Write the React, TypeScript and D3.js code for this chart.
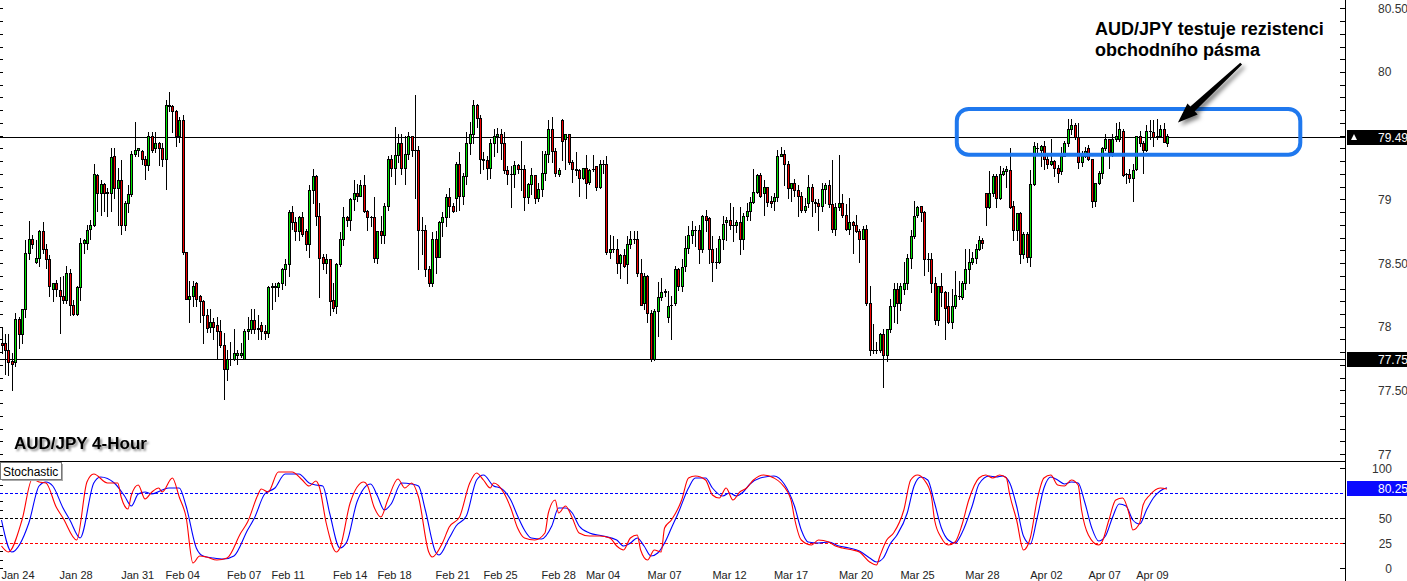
import { useEffect, useRef } from 'react';
import * as d3 from 'd3';

// AUD/JPY 4-hour bars: [open, high, low, close], oldest first
const candles: [number, number, number, number][] = [
  [77.87, 77.99, 77.79, 77.86], [77.87, 77.94, 77.63, 77.82], [77.82, 77.94, 77.62, 77.72], [77.73, 77.79, 77.50, 77.71],
  [77.72, 78.11, 77.69, 78.06], [78.06, 78.08, 77.83, 77.94], [77.94, 78.14, 77.87, 78.14], [78.14, 78.68, 78.08, 78.58],
  [78.58, 78.83, 78.53, 78.69], [78.69, 78.72, 78.62, 78.65], [78.51, 78.68, 78.50, 78.54], [78.54, 78.76, 78.48, 78.75],
  [78.75, 78.82, 78.58, 78.61], [78.61, 78.65, 78.46, 78.53], [78.53, 78.56, 78.24, 78.32], [78.30, 78.34, 78.20, 78.34],
  [78.34, 78.37, 78.24, 78.30], [78.29, 78.39, 77.95, 78.24], [78.24, 78.40, 78.19, 78.21], [78.21, 78.48, 78.19, 78.42],
  [78.42, 78.45, 78.09, 78.17], [78.17, 78.21, 78.09, 78.10], [78.10, 78.32, 78.09, 78.31], [78.31, 78.70, 78.21, 78.66],
  [78.66, 78.69, 78.58, 78.68], [78.66, 78.80, 78.61, 78.76], [78.77, 78.84, 78.69, 78.80], [78.80, 79.28, 78.79, 79.20],
  [79.19, 79.20, 78.91, 79.05], [79.05, 79.15, 78.88, 79.12], [79.12, 79.13, 78.91, 79.05], [79.05, 79.09, 78.87, 79.06],
  [79.05, 79.40, 78.91, 79.33], [79.34, 79.40, 79.01, 79.09], [79.09, 79.25, 78.80, 79.15], [79.15, 79.31, 78.73, 78.80],
  [78.80, 78.99, 78.76, 78.97], [78.97, 79.11, 78.90, 79.04], [79.04, 79.38, 79.03, 79.36], [79.36, 79.61, 79.34, 79.39],
  [79.39, 79.40, 79.34, 79.40], [79.38, 79.39, 79.28, 79.32], [79.32, 79.34, 79.16, 79.27], [79.27, 79.53, 79.23, 79.50],
  [79.50, 79.53, 79.37, 79.39], [79.40, 79.53, 79.37, 79.44], [79.44, 79.45, 79.27, 79.40], [79.40, 79.44, 79.26, 79.32],
  [79.32, 79.78, 79.08, 79.74], [79.74, 79.84, 79.69, 79.73], [79.73, 79.74, 79.53, 79.69], [79.69, 79.70, 79.42, 79.50],
  [79.50, 79.65, 79.45, 79.62], [79.62, 79.66, 78.57, 78.59], [78.59, 78.59, 78.22, 78.22], [78.22, 78.36, 78.04, 78.24],
  [78.24, 78.36, 78.16, 78.32], [78.34, 78.35, 78.16, 78.22], [78.24, 78.25, 78.04, 78.20], [78.20, 78.21, 77.87, 78.09],
  [78.09, 78.14, 77.96, 77.99], [78.00, 78.14, 77.96, 78.04], [78.04, 78.07, 77.90, 78.00], [78.01, 78.08, 77.75, 77.97],
  [77.97, 78.05, 77.84, 77.86], [77.86, 77.95, 77.43, 77.67], [77.67, 77.82, 77.58, 77.75], [77.75, 77.88, 77.70, 77.75],
  [77.75, 77.98, 77.74, 77.79], [77.78, 77.82, 77.71, 77.79], [77.78, 77.87, 77.76, 77.79], [77.75, 77.98, 77.75, 77.97],
  [77.97, 78.08, 77.90, 77.98], [77.98, 78.14, 77.95, 78.05], [78.05, 78.14, 77.95, 77.98], [77.98, 78.09, 77.90, 77.99],
  [78.01, 78.04, 77.90, 77.97], [77.97, 78.01, 77.90, 77.95], [77.95, 78.32, 77.92, 78.31], [78.31, 78.34, 78.14, 78.32],
  [78.31, 78.34, 78.20, 78.32], [78.31, 78.35, 78.24, 78.34], [78.34, 78.46, 78.30, 78.45], [78.45, 78.53, 78.33, 78.49],
  [78.49, 78.92, 78.40, 78.90], [78.90, 78.95, 78.77, 78.82], [78.82, 78.86, 78.68, 78.75], [78.75, 78.87, 78.68, 78.86],
  [78.86, 78.90, 78.71, 78.73], [78.75, 78.77, 78.60, 78.65], [78.65, 79.11, 78.55, 79.07], [79.07, 79.24, 78.97, 79.18],
  [79.18, 79.19, 78.80, 78.87], [78.87, 78.97, 78.23, 78.54], [78.55, 78.57, 78.45, 78.50], [78.50, 78.57, 78.42, 78.53],
  [78.53, 78.53, 78.09, 78.20], [78.21, 78.34, 78.12, 78.15], [78.16, 78.50, 78.11, 78.49], [78.49, 78.74, 78.48, 78.69],
  [78.69, 78.94, 78.64, 78.86], [78.86, 78.87, 78.79, 78.84], [78.84, 79.01, 78.76, 79.00], [79.00, 79.15, 78.92, 79.05],
  [79.05, 79.12, 78.99, 79.03], [79.03, 79.15, 79.03, 79.11], [79.11, 79.19, 78.90, 78.91], [78.91, 78.92, 78.76, 78.86],
  [78.86, 78.87, 78.79, 78.86], [78.86, 79.02, 78.51, 78.54], [78.54, 78.75, 78.50, 78.75], [78.75, 78.87, 78.66, 78.72],
  [78.72, 78.97, 78.66, 78.95], [78.95, 79.34, 78.92, 79.32], [79.32, 79.35, 79.18, 79.25], [79.25, 79.57, 79.12, 79.35],
  [79.35, 79.51, 79.29, 79.44], [79.44, 79.51, 79.20, 79.25], [79.25, 79.50, 79.12, 79.36], [79.36, 79.53, 79.32, 79.50],
  [79.50, 79.50, 79.34, 79.39], [79.39, 79.82, 79.01, 79.39], [79.39, 79.42, 78.45, 78.76], [78.76, 78.86, 78.57, 78.76],
  [78.76, 78.80, 78.40, 78.45], [78.45, 78.48, 78.32, 78.34], [78.34, 78.74, 78.32, 78.69], [78.69, 78.75, 78.42, 78.55],
  [78.55, 78.83, 78.55, 78.82], [78.82, 78.90, 78.71, 78.86], [78.86, 79.04, 78.79, 79.02], [79.02, 79.09, 78.86, 78.95],
  [78.95, 78.97, 78.90, 78.91], [79.01, 79.29, 78.91, 79.28], [79.28, 79.37, 78.92, 79.03], [79.03, 79.21, 78.96, 79.18],
  [79.18, 79.53, 79.12, 79.44], [79.44, 79.61, 79.36, 79.51], [79.51, 79.78, 79.44, 79.74], [79.74, 79.75, 79.57, 79.64],
  [79.64, 79.66, 79.21, 79.32], [79.32, 79.37, 79.24, 79.31], [79.31, 79.34, 79.16, 79.25], [79.25, 79.47, 79.17, 79.44],
  [79.44, 79.55, 79.34, 79.50], [79.50, 79.56, 79.37, 79.51], [79.51, 79.55, 79.32, 79.44], [79.44, 79.53, 79.21, 79.23],
  [79.23, 79.26, 79.12, 79.20], [79.20, 79.26, 78.94, 79.20], [79.20, 79.30, 79.10, 79.27], [79.27, 79.28, 79.21, 79.24],
  [79.24, 79.46, 79.07, 79.24], [79.24, 79.27, 78.92, 79.02], [79.02, 79.13, 78.97, 79.12], [79.12, 79.25, 79.04, 79.19],
  [79.19, 79.19, 78.97, 79.01], [79.01, 79.13, 78.99, 79.08], [79.08, 79.38, 79.03, 79.21], [79.21, 79.38, 79.15, 79.36],
  [79.36, 79.62, 79.29, 79.55], [79.55, 79.65, 79.29, 79.38], [79.38, 79.40, 79.18, 79.21], [79.20, 79.25, 79.18, 79.23],
  [79.62, 79.63, 79.31, 79.46], [79.47, 79.51, 79.24, 79.51], [79.51, 79.51, 79.28, 79.29], [79.29, 79.31, 79.14, 79.24],
  [79.24, 79.37, 79.19, 79.23], [79.23, 79.24, 79.03, 79.17], [79.17, 79.25, 79.16, 79.25], [79.25, 79.35, 79.01, 79.13],
  [79.14, 79.24, 79.12, 79.23], [79.24, 79.35, 79.22, 79.24], [79.26, 79.26, 79.07, 79.10], [79.10, 79.31, 79.09, 79.28],
  [79.28, 79.31, 79.21, 79.28], [79.28, 79.34, 78.57, 78.59], [78.59, 78.72, 78.54, 78.61], [78.61, 78.71, 78.59, 78.61],
  [78.61, 78.69, 78.42, 78.50], [78.50, 78.57, 78.38, 78.56], [78.56, 78.61, 78.47, 78.48], [78.49, 78.71, 78.34, 78.65],
  [78.65, 78.75, 78.62, 78.69], [78.69, 78.75, 78.66, 78.69], [78.69, 78.75, 78.40, 78.42], [78.42, 78.53, 78.17, 78.17],
  [78.19, 78.42, 78.14, 78.40], [78.40, 78.41, 78.04, 78.11], [78.11, 78.13, 77.73, 77.75], [77.75, 78.14, 77.74, 78.12],
  [78.12, 78.35, 77.93, 78.23], [78.23, 78.38, 78.21, 78.27], [78.27, 78.30, 78.24, 78.28], [78.08, 78.28, 78.04, 78.16],
  [78.17, 78.24, 77.90, 78.17], [78.19, 78.48, 78.17, 78.45], [78.45, 78.46, 78.29, 78.32], [78.32, 78.53, 78.28, 78.47],
  [78.48, 78.71, 78.44, 78.62], [78.62, 78.79, 78.58, 78.72], [78.72, 78.83, 78.66, 78.76], [78.76, 78.79, 78.63, 78.76],
  [78.76, 78.80, 78.50, 78.61], [78.61, 78.88, 78.59, 78.87], [78.87, 78.92, 78.75, 78.84], [78.85, 78.86, 78.50, 78.61],
  [78.61, 78.71, 78.36, 78.51], [78.51, 78.62, 78.46, 78.51], [78.51, 78.71, 78.50, 78.69], [78.69, 78.87, 78.61, 78.81],
  [78.82, 78.86, 78.68, 78.84], [78.84, 78.97, 78.77, 78.80], [78.80, 78.94, 78.67, 78.80], [78.80, 78.84, 78.74, 78.82],
  [78.82, 78.94, 78.57, 78.69], [78.69, 78.89, 78.61, 78.87], [78.87, 78.97, 78.84, 78.91], [78.91, 79.02, 78.84, 78.98],
  [78.98, 79.24, 78.97, 79.06], [79.06, 79.20, 79.05, 79.19], [79.19, 79.21, 79.02, 79.03], [79.05, 79.15, 78.88, 79.10],
  [79.10, 79.10, 78.95, 78.98], [78.99, 79.03, 78.94, 78.97], [78.99, 79.05, 78.92, 79.02], [79.02, 79.39, 78.99, 79.34],
  [79.34, 79.41, 79.34, 79.36], [79.36, 79.39, 79.11, 79.28], [79.28, 79.30, 79.01, 79.09], [79.09, 79.13, 78.99, 79.13],
  [79.13, 79.16, 79.03, 79.07], [79.07, 79.11, 78.87, 79.03], [79.03, 79.06, 78.90, 78.92], [78.92, 79.01, 78.90, 78.95],
  [78.97, 79.19, 78.94, 79.10], [79.10, 79.12, 78.87, 78.99], [78.98, 79.00, 78.90, 78.97], [78.97, 79.00, 78.76, 78.95],
  [78.95, 79.13, 78.91, 79.08], [79.08, 79.13, 78.97, 79.11], [79.11, 79.15, 78.94, 78.96], [78.96, 79.31, 78.74, 78.77],
  [78.77, 78.97, 78.72, 78.94], [78.94, 79.35, 78.92, 78.97], [78.97, 79.04, 78.86, 78.88], [78.88, 78.96, 78.76, 78.77],
  [78.77, 79.01, 78.73, 78.82], [78.82, 78.83, 78.58, 78.80], [78.80, 78.88, 78.74, 78.75], [78.75, 78.77, 78.51, 78.69],
  [78.69, 78.79, 78.69, 78.77], [78.77, 78.80, 78.17, 78.19], [78.19, 78.32, 77.78, 77.82], [77.82, 78.02, 77.79, 77.82],
  [77.82, 77.88, 77.79, 77.82], [77.82, 77.95, 77.80, 77.94], [77.94, 77.98, 77.53, 77.78], [77.78, 77.98, 77.73, 77.98],
  [77.98, 78.22, 77.96, 78.16], [78.16, 78.34, 78.04, 78.30], [78.30, 78.34, 78.03, 78.19], [78.19, 78.34, 78.13, 78.32],
  [78.30, 78.51, 78.26, 78.34], [78.34, 78.57, 78.30, 78.54], [78.54, 78.76, 78.46, 78.71], [78.71, 78.99, 78.70, 78.87],
  [78.88, 78.95, 78.86, 78.94], [78.95, 78.95, 78.83, 78.90], [78.90, 78.91, 78.41, 78.53], [78.53, 78.58, 78.44, 78.53],
  [78.53, 78.58, 78.27, 78.34], [78.34, 78.39, 78.02, 78.05], [78.05, 78.32, 78.01, 78.32], [78.32, 78.42, 78.16, 78.27],
  [78.27, 78.28, 77.90, 78.15], [78.16, 78.27, 78.03, 78.04], [78.04, 78.30, 77.99, 78.16], [78.16, 78.44, 78.15, 78.25],
  [78.24, 78.36, 78.22, 78.24], [78.23, 78.36, 78.22, 78.34], [78.34, 78.61, 78.30, 78.45], [78.45, 78.61, 78.34, 78.51],
  [78.51, 78.59, 78.49, 78.54], [78.54, 78.65, 78.50, 78.61], [78.61, 78.71, 78.60, 78.68], [78.68, 78.70, 78.62, 78.66],
  [79.05, 79.05, 78.80, 78.94], [78.94, 79.22, 78.93, 79.05], [79.05, 79.20, 79.03, 79.18], [79.18, 79.20, 78.94, 79.01],
  [79.01, 79.26, 79.00, 79.20], [79.20, 79.25, 79.19, 79.22], [79.22, 79.26, 79.10, 79.24], [79.23, 79.40, 78.93, 78.94],
  [78.95, 78.99, 78.68, 78.76], [78.76, 78.89, 78.68, 78.89], [78.89, 78.90, 78.50, 78.57], [78.57, 78.74, 78.54, 78.73],
  [78.73, 78.74, 78.51, 78.55], [78.55, 79.23, 78.48, 79.12], [79.12, 79.45, 79.11, 79.42], [79.40, 79.44, 79.37, 79.40],
  [79.39, 79.43, 79.26, 79.42], [79.42, 79.46, 79.24, 79.32], [79.32, 79.34, 79.25, 79.28], [79.28, 79.47, 79.27, 79.30],
  [79.30, 79.31, 79.18, 79.25], [79.25, 79.27, 79.14, 79.21], [79.22, 79.41, 79.20, 79.34], [79.34, 79.46, 79.34, 79.44],
  [79.44, 79.63, 79.42, 79.55], [79.55, 79.63, 79.51, 79.58], [79.58, 79.60, 79.47, 79.49], [79.49, 79.60, 79.25, 79.29],
  [79.29, 79.38, 79.26, 79.34], [79.34, 79.41, 79.33, 79.38], [79.40, 79.43, 79.31, 79.32], [79.32, 79.32, 78.94, 78.99],
  [78.99, 79.13, 78.95, 79.13], [79.13, 79.22, 79.12, 79.21], [79.21, 79.41, 79.17, 79.40], [79.40, 79.51, 79.39, 79.47],
  [79.47, 79.47, 79.25, 79.37], [79.37, 79.51, 79.34, 79.47], [79.47, 79.60, 79.46, 79.50], [79.47, 79.61, 79.46, 79.55],
  [79.54, 79.55, 79.18, 79.19], [79.20, 79.21, 79.13, 79.20], [79.20, 79.24, 79.14, 79.17], [79.17, 79.28, 78.99, 79.23],
  [79.24, 79.50, 79.23, 79.50], [79.50, 79.54, 79.42, 79.44], [79.44, 79.46, 79.21, 79.39], [79.39, 79.58, 79.38, 79.54],
  [79.54, 79.62, 79.47, 79.54], [79.53, 79.62, 79.42, 79.49], [79.50, 79.63, 79.47, 79.50], [79.50, 79.58, 79.49, 79.55],
  [79.55, 79.60, 79.45, 79.45], [79.44, 79.51, 79.42, 79.50],
];

// date labels: [text, bar index]
const dateTicks: [string, number][] = [
  ['Jan 24', 0], ['Jan 28', 17], ['Jan 31', 35], ['Feb 04', 48], ['Feb 07', 66], ['Feb 11', 79],
  ['Feb 14', 97], ['Feb 18', 110], ['Feb 21', 127], ['Feb 25', 141], ['Feb 28', 158], ['Mar 04', 171],
  ['Mar 07', 189], ['Mar 12', 208], ['Mar 17', 226], ['Mar 20', 245], ['Mar 25', 263], ['Mar 28', 282],
  ['Apr 02', 301], ['Apr 07', 318], ['Apr 09', 332],
];

const priceTicks = [80.5, 80, 79, 78.5, 78, 77.5, 77];
const priceLines = [79.49, 77.75];
const stochTicks = [100, 50, 25, 0];
const stochLevels: [number, string][] = [[75, '#0000ff'], [50, '#000000'], [25, '#ff0000']];
const stochLast = 80.25;

// stochastic main (red) and signal (blue): [bar, value]
const stochMain: [number, number][] = [
  [0, 22], [2, 16], [6, 48], [9, 89], [11, 86], [13, 85], [16, 61], [18, 50], [22, 28], [25, 86], [27, 94],
  [31, 85], [34, 85], [35, 71], [37, 59], [38, 73], [40, 83], [42, 69], [44, 76], [46, 80], [47, 76], [50, 90],
  [52, 71], [54, 51], [56, 5], [58, 12], [60, 11], [63, 8], [66, 10], [70, 35], [72, 46], [75, 73], [76, 79],
  [78, 76], [81, 96], [85, 96], [88, 88], [90, 82], [92, 87], [93, 81], [95, 45], [98, 16], [99, 20], [102, 65],
  [106, 86], [107, 83], [109, 61], [111, 51], [113, 68], [116, 89], [118, 80], [120, 85], [122, 71], [125, 16],
  [126, 11], [129, 25], [131, 41], [134, 51], [137, 85], [139, 95], [141, 88], [143, 80], [144, 85], [147, 75],
  [149, 60], [151, 40], [153, 30], [156, 28], [159, 35], [160, 55], [162, 68], [163, 55], [165, 62], [167, 50],
  [169, 35], [172, 32], [175, 32], [178, 30], [180, 22], [182, 18], [184, 30], [186, 33], [187, 18], [189, 8],
  [191, 18], [193, 16], [194, 40], [196, 48], [199, 68], [201, 90], [203, 92], [206, 88], [208, 73], [210, 70],
  [212, 80], [214, 68], [216, 76], [218, 80], [220, 88], [223, 93], [226, 90], [228, 85], [231, 68], [232, 50],
  [234, 28], [237, 23], [239, 28], [242, 26], [244, 22], [246, 20], [249, 18], [251, 16], [254, 6], [256, 3],
  [257, 12], [259, 28], [261, 35], [264, 58], [266, 88], [268, 93], [270, 88], [272, 73], [273, 48], [275, 30],
  [277, 23], [279, 26], [281, 43], [283, 68], [286, 90], [288, 93], [290, 90], [292, 93], [294, 90], [295, 73],
  [297, 48], [299, 18], [301, 30], [303, 68], [305, 90], [307, 93], [309, 83], [311, 82], [313, 88], [315, 83],
  [316, 58], [318, 33], [321, 23], [322, 26], [324, 48], [326, 68], [328, 70], [330, 53], [331, 38], [333, 45],
  [334, 63], [336, 73], [339, 80], [341, 79],
];

const stochSignal: [number, number][] = [
  [0, 48], [3, 16], [8, 45], [11, 82], [13, 86], [15, 82], [18, 60], [20, 48], [23, 30], [27, 85], [29, 91],
  [33, 85], [36, 72], [38, 62], [40, 74], [42, 76], [44, 74], [47, 78], [49, 80], [52, 80], [54, 62], [57, 20],
  [59, 12], [62, 10], [65, 9], [68, 12], [72, 38], [74, 50], [77, 74], [80, 80], [83, 94], [87, 94], [90, 85],
  [92, 83], [94, 82], [96, 55], [99, 20], [101, 26], [104, 66], [108, 84], [110, 72], [112, 58], [114, 64],
  [117, 85], [120, 84], [122, 82], [124, 58], [127, 16], [128, 13], [131, 30], [133, 42], [136, 52], [139, 88],
  [141, 93], [144, 82], [146, 80], [149, 68], [151, 52], [153, 38], [155, 30], [158, 29], [161, 42], [163, 60],
  [165, 60], [167, 55], [169, 42], [172, 35], [176, 32], [180, 28], [182, 22], [184, 25], [186, 30], [188, 22],
  [190, 12], [192, 15], [194, 25], [196, 40], [198, 55], [201, 80], [203, 90], [206, 90], [208, 80], [211, 72],
  [213, 75], [215, 72], [217, 76], [219, 84], [222, 90], [226, 92], [229, 84], [232, 62], [234, 38], [236, 26],
  [239, 25], [242, 26], [245, 22], [248, 20], [251, 17], [254, 10], [256, 6], [258, 10], [260, 24], [262, 33],
  [265, 55], [267, 82], [269, 91], [271, 88], [273, 65], [275, 40], [277, 28], [279, 25], [281, 35], [284, 62],
  [286, 84], [289, 92], [291, 91], [293, 92], [295, 85], [297, 62], [299, 32], [301, 24], [303, 50], [305, 80],
  [307, 91], [309, 88], [311, 84], [313, 86], [315, 85], [317, 65], [319, 40], [321, 27], [323, 32], [325, 50],
  [327, 64], [329, 62], [331, 48], [333, 44], [335, 58], [337, 70], [339, 77], [341, 80.25],
];

const W = 1407;
const H = 581;
const axisX = 1345;
const font = '"Liberation Sans", Arial, sans-serif';

const App = () => {
  const svgRef = useRef<SVGSVGElement>(null);

  useEffect(() => {
    if (!svgRef.current) return;
    const svg = d3.select(svgRef.current);
    svg.selectAll('*').remove();

    const x = d3.scaleLinear().domain([0, candles.length - 1]).range([1.5, 1167]);
    const y = d3.scaleLinear().domain([77, 80.5]).range([454.1, 8.3]);
    const sy = d3.scaleLinear().domain([0, 100]).range([568, 468]);

    const defs = svg.append('defs');
    defs.append('filter').attr('id', 'txtShadow')
      .attr('x', '-10%').attr('y', '-30%').attr('width', '130%').attr('height', '170%')
      .append('feDropShadow')
      .attr('dx', 2).attr('dy', 2).attr('stdDeviation', 1.3)
      .attr('flood-color', '#000').attr('flood-opacity', 0.45);
    defs.append('filter').attr('id', 'arrowShadow')
      .attr('x', '-30%').attr('y', '-30%').attr('width', '170%').attr('height', '170%')
      .append('feDropShadow')
      .attr('dx', 3).attr('dy', 3).attr('stdDeviation', 2.2)
      .attr('flood-color', '#000').attr('flood-opacity', 0.5);
    defs.append('clipPath').attr('id', 'stochClip')
      .append('rect').attr('x', 0).attr('y', 462).attr('width', axisX).attr('height', 119);

    svg.append('rect').attr('width', W).attr('height', H).attr('fill', '#ffffff');

    // left edge ticks
    const leftTicks = svg.append('g').attr('shape-rendering', 'crispEdges');
    d3.range(77, 80.55, 0.1).forEach(p => {
      const yy = Math.round(y(p)) + 0.5;
      leftTicks.append('line').attr('x1', 0).attr('x2', 3).attr('y1', yy).attr('y2', yy).attr('stroke', '#000');
    });
    d3.range(0, 100, 100 / 12).forEach(v => {
      const yy = Math.round(sy(v)) + 0.5;
      leftTicks.append('line').attr('x1', 0).attr('x2', 3).attr('y1', yy).attr('y2', yy).attr('stroke', '#000');
    });

    // horizontal support / resistance lines
    const lines = svg.append('g').attr('shape-rendering', 'crispEdges');
    priceLines.forEach(p => {
      const yy = Math.round(y(p)) + 0.5;
      lines.append('line').attr('x1', 0).attr('x2', axisX).attr('y1', yy).attr('y2', yy)
        .attr('stroke', '#000').attr('stroke-width', 1);
    });

    // candles
    const cg = svg.append('g').attr('shape-rendering', 'crispEdges');
    candles.forEach((c, i) => {
      const [o, h0, l0, cl] = c;
      const h = Math.max(h0, o, cl);
      const l = Math.min(l0, o, cl);
      const cx = Math.round(x(i));
      cg.append('line')
        .attr('x1', cx + 0.5).attr('x2', cx + 0.5)
        .attr('y1', Math.round(y(h))).attr('y2', Math.round(y(l)) + 1)
        .attr('stroke', '#000');
      const top = Math.round(y(Math.max(o, cl)));
      const bot = Math.round(y(Math.min(o, cl)));
      const bh = Math.max(1, bot - top + 1);
      cg.append('rect').attr('x', cx - 1).attr('y', top).attr('width', 3).attr('height', bh).attr('fill', '#000');
      if (bh > 2) {
        cg.append('rect').attr('x', cx).attr('y', top + 1).attr('width', 1).attr('height', bh - 2)
          .attr('fill', cl >= o ? '#00e400' : '#f00000');
      }
    });

    // annotation box
    svg.append('rect')
      .attr('x', x(279.5)).attr('y', y(79.71))
      .attr('width', x(380) - x(279.5)).attr('height', y(79.35) - y(79.71))
      .attr('rx', 12).attr('ry', 12)
      .attr('fill', 'none').attr('stroke', '#1f78ee').attr('stroke-width', 4);

    // annotation arrow
    const tail: [number, number] = [x(362.7), y(80.066)];
    const tip: [number, number] = [x(344.2), y(79.603)];
    const dx = tip[0] - tail[0];
    const dy = tip[1] - tail[1];
    const len = Math.hypot(dx, dy);
    const ux = dx / len, uy = dy / len;
    const nx = uy, ny = -ux;
    const base: [number, number] = [tip[0] - ux * 20, tip[1] - uy * 20];
    const pt = (p: [number, number], k: number) => `${p[0] + nx * k},${p[1] + ny * k}`;
    svg.append('polygon')
      .attr('points', [
        pt(tail, 1.3), pt(base, 3.2), pt(base, 7.5), `${tip[0]},${tip[1]}`, pt(base, -7.5), pt(base, -3.2), pt(tail, -1.3),
      ].join(' '))
      .attr('fill', '#000')
      .attr('filter', 'url(#arrowShadow)');

    // annotation text
    const note = svg.append('g').attr('font-family', font).attr('font-weight', 'bold')
      .attr('font-size', 18).attr('fill', '#000');
    note.append('text').attr('x', 1095).attr('y', 35).text('AUD/JPY testuje rezistenci');
    note.append('text').attr('x', 1095).attr('y', 56).text('obchodního pásma');

    // title
    svg.append('text')
      .attr('x', 14).attr('y', 449)
      .attr('font-family', font).attr('font-weight', 'bold').attr('font-size', 17)
      .attr('fill', '#000').attr('filter', 'url(#txtShadow)')
      .text('AUD/JPY 4-Hour');

    // panel separator and right axis
    const frame = svg.append('g').attr('shape-rendering', 'crispEdges');
    frame.append('line').attr('x1', 0).attr('x2', axisX).attr('y1', 461.5).attr('y2', 461.5).attr('stroke', '#000');
    frame.append('line').attr('x1', axisX + 0.5).attr('x2', axisX + 0.5).attr('y1', 0).attr('y2', H).attr('stroke', '#000');

    // price axis ticks and labels
    d3.range(77, 80.55, 0.1).forEach(p => {
      const yy = Math.round(y(p)) + 0.5;
      frame.append('line').attr('x1', axisX - 5).attr('x2', axisX).attr('y1', yy).attr('y2', yy).attr('stroke', '#000');
    });
    const axisText = svg.append('g').attr('font-family', font).attr('font-size', 12).attr('fill', '#333');
    priceTicks.forEach(p => {
      axisText.append('text').attr('x', 1378).attr('y', y(p) + 4.5)
        .text(Number.isInteger(p) ? String(p) : p.toFixed(2));
    });

    // price line labels
    priceLines.forEach((p, i) => {
      const yy = Math.round(y(p));
      svg.append('rect').attr('x', axisX + 2).attr('y', yy - 7).attr('width', W - axisX - 2).attr('height', 15)
        .attr('fill', '#000');
      if (i === 0) {
        svg.append('path')
          .attr('d', `M${axisX + 6},${yy + 3} L${axisX + 9},${yy - 3} L${axisX + 12},${yy + 3} Z`)
          .attr('fill', '#fff');
      }
      svg.append('text').attr('x', 1378).attr('y', yy + 4.5)
        .attr('font-family', font).attr('font-size', 12).attr('fill', '#fff')
        .text(p.toFixed(2));
    });

    // stochastic panel
    const sg = svg.append('g').attr('clip-path', 'url(#stochClip)');
    stochLevels.forEach(([v, col]) => {
      const yy = Math.round(sy(v)) + 0.5;
      sg.append('line').attr('x1', 0).attr('x2', axisX).attr('y1', yy).attr('y2', yy)
        .attr('stroke', col).attr('stroke-dasharray', '3,2').attr('shape-rendering', 'crispEdges');
    });
    const line = d3.line<[number, number]>()
      .x(d => x(d[0]))
      .y(d => sy(d[1]))
      .curve(d3.curveMonotoneX);
    sg.append('path').attr('d', line(stochSignal) || '').attr('fill', 'none').attr('stroke', '#0000ff').attr('stroke-width', 1.1);
    sg.append('path').attr('d', line(stochMain) || '').attr('fill', 'none').attr('stroke', '#ff0000').attr('stroke-width', 1.1);

    // stochastic label box
    svg.append('rect').attr('x', 1.5).attr('y', 463.5).attr('width', 61).attr('height', 17)
      .attr('fill', '#aaa').attr('shape-rendering', 'crispEdges');
    svg.append('rect').attr('x', 0.5).attr('y', 462.5).attr('width', 61).attr('height', 17)
      .attr('fill', '#fff').attr('stroke', '#777').attr('shape-rendering', 'crispEdges');
    svg.append('text').attr('x', 3).attr('y', 476)
      .attr('font-family', font).attr('font-size', 12).attr('fill', '#000').text('Stochastic');

    // stochastic axis
    stochTicks.forEach(v => {
      const yy = Math.round(sy(v)) + 0.5;
      frame.append('line').attr('x1', axisX - 5).attr('x2', axisX).attr('y1', yy).attr('y2', yy).attr('stroke', '#000');
      axisText.append('text').attr('x', 1392).attr('y', sy(v) + 4.5).attr('text-anchor', 'end').text(String(v));
    });
    const ly = Math.round(sy(stochLast));
    svg.append('rect').attr('x', axisX + 2).attr('y', ly - 7).attr('width', W - axisX - 2).attr('height', 15)
      .attr('fill', '#0a0aff');
    svg.append('text').attr('x', 1378).attr('y', ly + 4.5)
      .attr('font-family', font).attr('font-size', 12).attr('fill', '#fff').text(stochLast.toFixed(2));

    // date labels
    const dg = svg.append('g').attr('font-family', font).attr('font-size', 11).attr('fill', '#222');
    dateTicks.forEach(([t, i]) => {
      dg.append('text').attr('x', x(i)).attr('y', 579).text(t);
    });
  }, []);

  return (
    <svg
      ref={svgRef}
      width={W}
      height={H}
      style={{ position: 'absolute', left: 0, top: 0, display: 'block' }}
    />
  );
};

export default App;
